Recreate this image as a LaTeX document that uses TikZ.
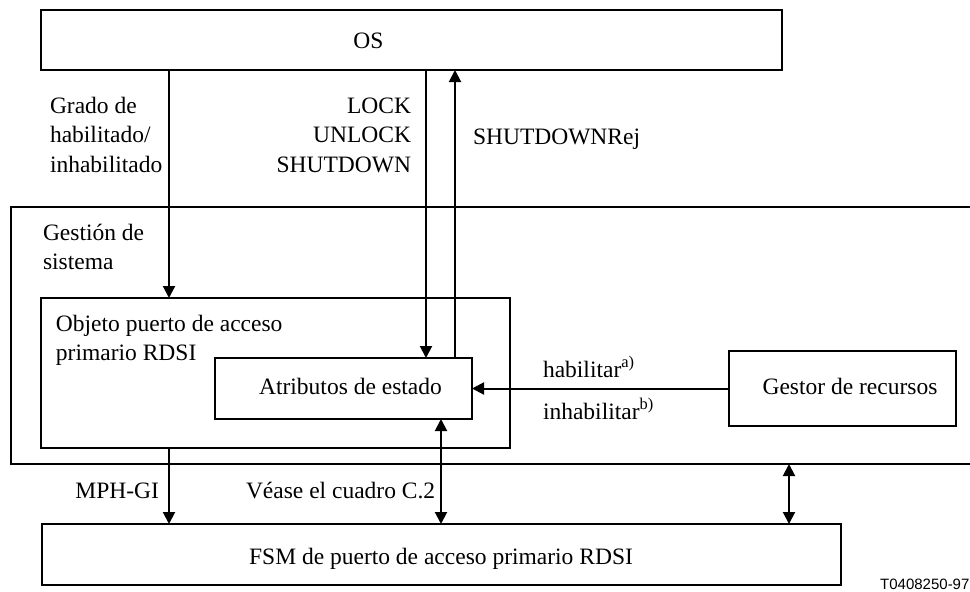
\documentclass[tikz,border=0pt]{standalone}
\usepackage{fontspec}
\setmainfont{Liberation Serif}
\newfontfamily\tagfont{Liberation Sans}
\usetikzlibrary{arrows.meta}
\tikzset{
  boxnode/.style={draw, line width=1.2pt, inner sep=0pt, outer sep=0pt, anchor=north west},
  txt/.style={inner sep=0pt, outer sep=0pt, font=\fontsize{23.5}{29.5}\selectfont},
  arr/.style={line width=2pt, -{Triangle[length=12pt,width=12pt]}},
  arrr/.style={line width=2pt, {Triangle[length=12pt,width=12pt]}-{Triangle[length=12pt,width=12pt]}}
}
\newcommand{\lefttab}[1]{\begin{tabular}[t]{@{}l@{}}#1\end{tabular}}
\newcommand{\righttab}[1]{\begin{tabular}[t]{@{}r@{}}#1\end{tabular}}
\begin{document}
\begin{tikzpicture}[x=1pt,y=-1pt]
\useasboundingbox (0,0) rectangle (970,592);
\clip (0,0) rectangle (970,592);
% boxes
\node[boxnode, minimum width=741pt, minimum height=60pt] (os) at (41,10) {};
\node[boxnode, minimum width=980pt, minimum height=257pt] (gestion) at (11,207) {};
\node[boxnode, minimum width=469pt, minimum height=150pt] (objeto) at (41,298) {};
\node[boxnode, minimum width=257pt, minimum height=61pt] (atrib) at (215,358) {};
\node[boxnode, minimum width=227pt, minimum height=75pt] (gestor) at (729,351) {};
\node[boxnode, minimum width=799pt, minimum height=61pt] (fsm) at (42,524) {};
% box texts
\node[txt, anchor=base] (ostxt) at (368.5,48) {OS};
\node[txt, anchor=base] (atribtxt) at (350.5,394) {Atributos de estado};
\node[txt, anchor=base] (gestortxt) at (850,394) {Gestor de recursos};
\node[txt, anchor=base] (fsmtxt) at (441,564) {FSM de puerto de acceso primario RDSI};
\node[txt, anchor=base west] (gestiontxt) at (43,240) {\lefttab{Gestión de\\sistema}};
\node[txt, anchor=base west] (objetotxt) at (56,331) {\lefttab{Objeto puerto de acceso\\primario RDSI}};
% coordinates for connectors
\coordinate (gx) at (169,0);
\coordinate (lx) at (426,0);
\coordinate (sx) at (455,0);
\coordinate (vx) at (441,0);
\coordinate (rx) at (789,0);
% connectors
\draw[arr] (os.south -| gx) -- (objeto.north -| gx);
\draw[arr] (os.south -| lx) -- (atrib.north -| lx);
\draw[arr] (atrib.north -| sx) -- (os.south -| sx);
\draw[arr] (gestor.west) -- (atrib.east);
\draw[arr] (objeto.south -| gx) -- (fsm.north -| gx);
\draw[arrr] (atrib.south -| vx) -- (fsm.north -| vx);
\draw[arrr] (gestion.south -| rx) -- (fsm.north -| rx);
% labels
\node[txt, anchor=base west] (gradotxt) at (50,113) {\lefttab{Grado de\\habilitado/\\inhabilitado}};
\node[txt, anchor=base east] (locktxt) at (411,113) {\righttab{LOCK\\UNLOCK\\SHUTDOWN}};
\node[txt, anchor=base west] (rejtxt) at (473,144) {SHUTDOWNRej};
\node[txt, anchor=base west] (habtxt) at (543,377) {habilitar\textsuperscript{a)}};
\node[txt, anchor=base west] (inhabtxt) at (543,419) {inhabilitar\textsuperscript{b)}};
\node[txt, anchor=base east] (mphtxt) at (159,498) {MPH-GI};
\node[txt, anchor=base west] (veasetxt) at (246,498) {Véase el cuadro C.2};
\node[inner sep=0pt, anchor=base west, font=\tagfont\fontsize{15}{18}\selectfont] (tag) at (880,589) {T0408250-97};
\end{tikzpicture}
\end{document}
